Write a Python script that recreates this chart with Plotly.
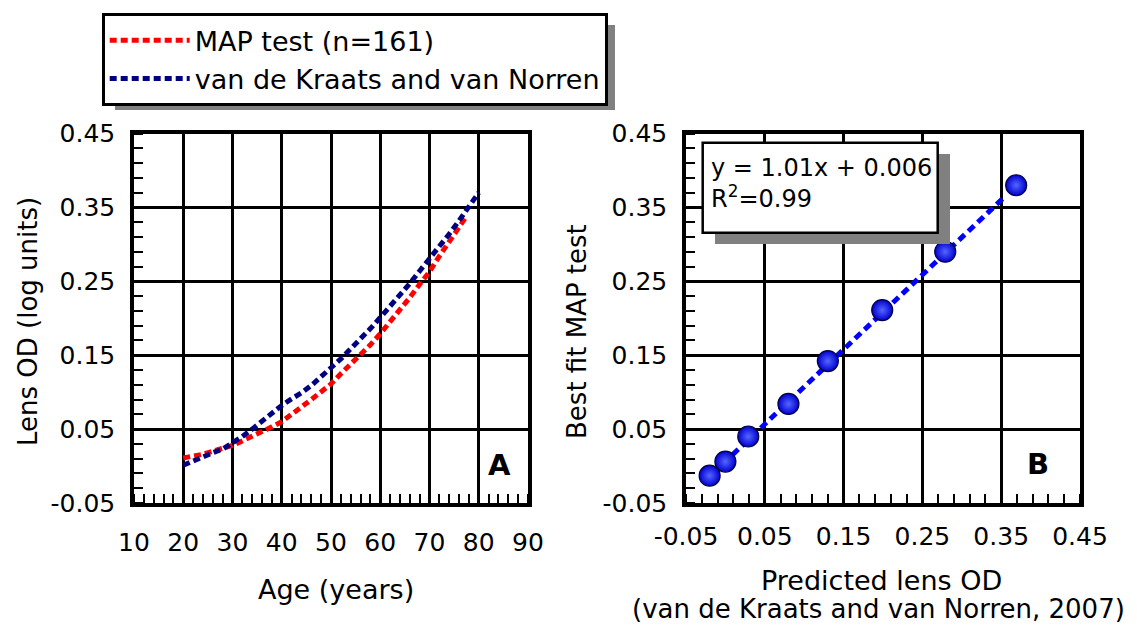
import plotly.graph_objects as go

# The page body has an 8 px margin, so the figure starts at (8, 8) of the window.
OFF = 8
W, H = 1137 - OFF, 630 - OFF

# ---------------- data ----------------
# Panel A: lens OD vs age
age_map = [20, 22, 24, 26, 28, 30, 32, 34, 36, 38, 40, 42, 44, 46, 48, 50,
           52, 54, 56, 58, 60, 62, 64, 66, 68, 70, 72, 74, 76, 77.5]
od_map = [0.011, 0.013, 0.016, 0.020, 0.024, 0.028, 0.034, 0.040, 0.046, 0.053,
          0.060, 0.069, 0.080, 0.090, 0.100, 0.111, 0.125, 0.138, 0.150, 0.164,
          0.179, 0.195, 0.212, 0.228, 0.246, 0.263, 0.284, 0.304, 0.322, 0.338]

age_vdk = [20, 22, 24, 26, 28, 30, 32, 34, 36, 38, 40, 42, 44, 46, 48, 50,
           52, 54, 56, 58, 60, 62, 64, 66, 68, 70, 72, 74, 76, 78, 80]
od_vdk = [0.001, 0.007, 0.013, 0.018, 0.023, 0.031, 0.040, 0.050, 0.061, 0.071,
          0.082, 0.091, 0.099, 0.109, 0.120, 0.133, 0.145, 0.158, 0.172, 0.186,
          0.201, 0.216, 0.230, 0.247, 0.264, 0.280, 0.297, 0.314, 0.332, 0.351, 0.370]

# Panel B: best fit MAP test vs predicted lens OD
pred_od = [-0.020, 0.000, 0.029, 0.080, 0.130, 0.199, 0.279, 0.369]
fit_od = [-0.013, 0.006, 0.040, 0.084, 0.142, 0.211, 0.290, 0.380]
fit_line_x = [-0.015, 0.355]
fit_line_y = [-0.009, 0.365]

x_ticks_a = [10, 20, 30, 40, 50, 60, 70, 80, 90]
od_ticks = [-0.05, 0.05, 0.15, 0.25, 0.35, 0.45]
od_tick_text = ["-0.05", "0.05", "0.15", "0.25", "0.35", "0.45"]

# ---------------- helpers (window pixels -> paper fractions) ----------------
def px(x):
    return (x - OFF) / W


def py(y):
    return 1 - (y - OFF) / H


FONT = "DejaVu Sans"

fig = go.Figure()

fig.add_trace(go.Scatter(
    x=age_map, y=od_map, mode="lines", name="MAP test (n=161)",
    line=dict(color="#ff0000", width=5, dash="7px,4px"),
    xaxis="x", yaxis="y"))
fig.add_trace(go.Scatter(
    x=age_vdk, y=od_vdk, mode="lines", name="van de Kraats and van Norren",
    line=dict(color="#000080", width=5, dash="7px,4px"),
    xaxis="x", yaxis="y"))

fig.add_trace(go.Scatter(
    x=fit_line_x, y=fit_line_y, mode="lines", showlegend=False,
    line=dict(color="#0000ff", width=5, dash="8px,5px"),
    xaxis="x2", yaxis="y2"))
fig.add_trace(go.Scatter(
    x=pred_od, y=fit_od, mode="markers", showlegend=False,
    marker=dict(size=21, color="#0000d0",
                line=dict(color="#000040", width=1.2),
                gradient=dict(type="radial", color="#5566ff")),
    xaxis="x2", yaxis="y2"))

common = dict(
    showline=True, linecolor="black", linewidth=3.5, mirror=True,
    showgrid=True, gridcolor="black", gridwidth=3, zeroline=False,
    ticks="", tickfont=dict(family=FONT, size=25, color="black"),
    fixedrange=True, automargin=False,
)

ydom = [py(503), py(133.5)]

fig.update_layout(
    width=W, height=H,
    margin=dict(l=0, r=0, t=0, b=0, autoexpand=False),
    paper_bgcolor="white", plot_bgcolor="white",
    font=dict(family=FONT, color="black"),
    xaxis=dict(domain=[px(134), px(528)], range=[10, 90], anchor="y",
               tickmode="array", tickvals=x_ticks_a,
               minor=dict(tickmode="linear", tick0=10, dtick=2, ticks="inside",
                          ticklen=9, tickwidth=2, tickcolor="black", showgrid=False),
               ticklabelstandoff=14, **common),
    yaxis=dict(domain=ydom, range=[-0.05, 0.45], anchor="x",
               tickmode="array", tickvals=od_ticks, ticktext=od_tick_text,
               minor=dict(tickmode="linear", tick0=-0.05, dtick=0.02, ticks="inside",
                          ticklen=9, tickwidth=2, tickcolor="black", showgrid=False),
               ticklabelstandoff=10, **common),
    xaxis2=dict(domain=[px(686), px(1080)], range=[-0.05, 0.45], anchor="y2",
                tickmode="array", tickvals=od_ticks, ticktext=od_tick_text,
                minor=dict(tickmode="linear", tick0=-0.05, dtick=0.02, ticks="inside",
                           ticklen=9, tickwidth=2, tickcolor="black", showgrid=False),
                ticklabelstandoff=8, **common),
    yaxis2=dict(domain=ydom, range=[-0.05, 0.45], anchor="x2",
                tickmode="array", tickvals=od_ticks, ticktext=od_tick_text,
                minor=dict(tickmode="linear", tick0=-0.05, dtick=0.02, ticks="inside",
                           ticklen=9, tickwidth=2, tickcolor="black", showgrid=False),
                ticklabelstandoff=10, **common),
    legend=dict(x=px(101.7), y=py(13.3), xanchor="left", yanchor="top",
                bgcolor="white", bordercolor="black", borderwidth=3,
                font=dict(family=FONT, size=27, color="black"),
                itemwidth=80, tracegroupgap=0),
    showlegend=True,
)

shapes = [
    # legend shadow
    dict(type="rect", xref="paper", yref="paper",
         x0=px(115), x1=px(615), y0=py(110), y1=py(25),
         fillcolor="#808080", line=dict(width=0), layer="above"),
    # equation box shadow
    dict(type="rect", xref="paper", yref="paper",
         x0=px(715), x1=px(950), y0=py(244), y1=py(154),
         fillcolor="#808080", line=dict(width=0), layer="above"),
    # equation box
    dict(type="rect", xref="paper", yref="paper",
         x0=px(702.7), x1=px(937.7), y0=py(232.7), y1=py(142.7),
         fillcolor="white", line=dict(color="black", width=2.5), layer="above"),
]
fig.update_layout(shapes=shapes)

ann = [
    dict(text="y = 1.01x + 0.006", x=px(709), y=py(168), xanchor="left", yanchor="middle",
         font=dict(family=FONT, size=24, color="black")),
    dict(text="R<sup>2</sup>=0.99", x=px(709), y=py(197), xanchor="left", yanchor="middle",
         font=dict(family=FONT, size=24, color="black")),
    dict(text="<b>A</b>", x=px(499), y=py(465), xanchor="center", yanchor="middle",
         font=dict(family=FONT, size=29, color="black")),
    dict(text="<b>B</b>", x=px(1038), y=py(464), xanchor="center", yanchor="middle",
         font=dict(family=FONT, size=29, color="black")),
    dict(text="Age (years)", x=px(336), y=py(589), xanchor="center", yanchor="middle",
         font=dict(family=FONT, size=27, color="black")),
    dict(text="Predicted lens OD", x=px(881), y=py(580), xanchor="center", yanchor="middle",
         font=dict(family=FONT, size=27, color="black")),
    dict(text="(van de Kraats and van Norren, 2007)", x=px(630), y=py(609),
         xanchor="left", yanchor="middle",
         font=dict(family=FONT, size=26, color="black")),
    dict(text="Lens OD (log units)", x=px(28), y=py(322), xanchor="center", yanchor="middle",
         textangle=-90, font=dict(family=FONT, size=26, color="black")),
    dict(text="Best fit MAP test", x=px(577), y=py(332), xanchor="center", yanchor="middle",
         textangle=-90, font=dict(family=FONT, size=26, color="black")),
]
for a in ann:
    a.update(xref="paper", yref="paper", showarrow=False)
fig.update_layout(annotations=ann)

fig.write_html("out.html")
